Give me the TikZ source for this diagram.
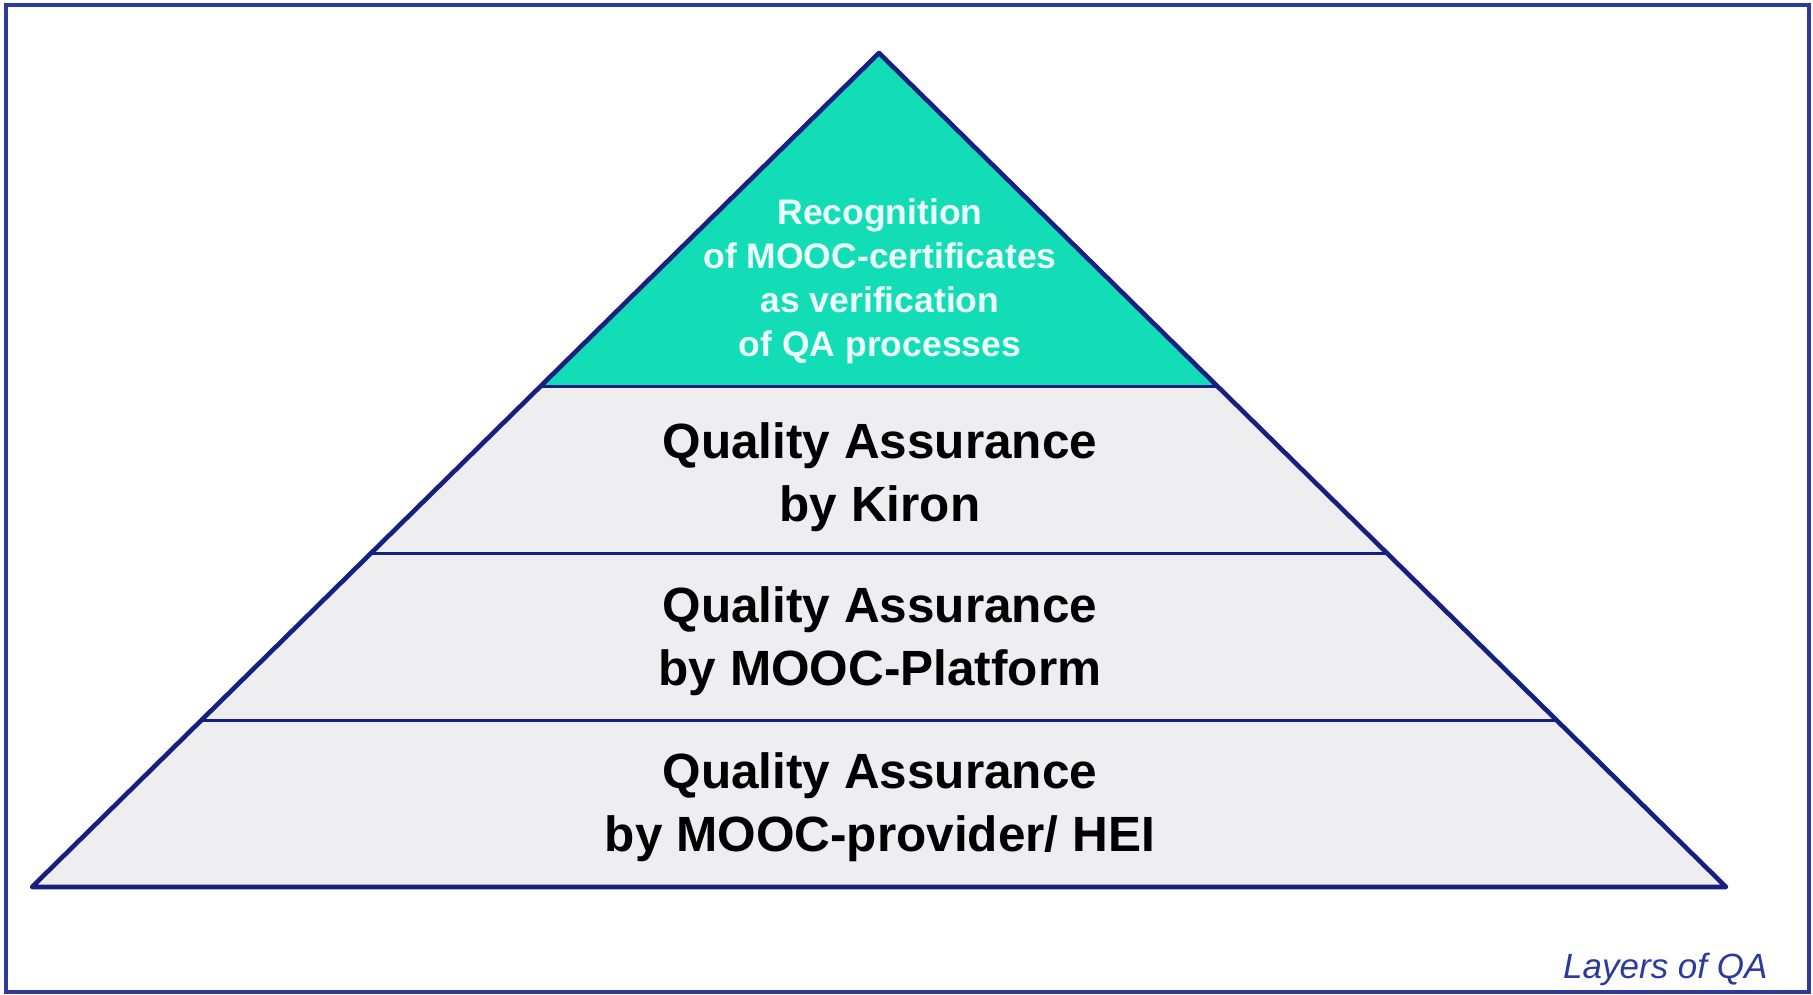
\documentclass[tikz,border=0pt]{standalone}
\usepackage{fontspec}
\setmainfont{Liberation Sans}
\usetikzlibrary{calc}
\definecolor{framecol}{RGB}{44,58,158}
\definecolor{edgecol}{RGB}{22,32,130}
\definecolor{tealfill}{RGB}{18,221,182}
\definecolor{greyfill}{RGB}{238,238,240}
\definecolor{toptext}{RGB}{236,255,248}
\tikzset{
  layertext/.style={align=center, text=black, font=\bfseries\fontsize{49.5}{62.5}\selectfont},
  toplabel/.style={align=center, text=toptext, font=\bfseries\fontsize{35.5}{44}\selectfont},
  divider/.style={draw=edgecol, line width=3pt},
  outline/.style={draw=edgecol, line width=4.6pt, line join=round}
}
\begin{document}
\begin{tikzpicture}[x=1pt,y=-1pt]
\useasboundingbox (0,0) rectangle (1813,995);
% outer frame
\draw[framecol, line width=3.6pt] (6,5) rectangle (1809,992);
% pyramid corners
\coordinate (apex) at (879,53);
\coordinate (bl) at (32,887);
\coordinate (br) at (1726,887);
% layer boundaries along the sides
\coordinate (l1) at ($(apex)!0.4!(bl)$);
\coordinate (r1) at ($(apex)!0.4!(br)$);
\coordinate (l2) at ($(apex)!0.6!(bl)$);
\coordinate (r2) at ($(apex)!0.6!(br)$);
\coordinate (l3) at ($(apex)!0.8!(bl)$);
\coordinate (r3) at ($(apex)!0.8!(br)$);
% fills
\fill[greyfill] (l1) -- (r1) -- (br) -- (bl) -- cycle;
\fill[tealfill] (apex) -- (r1) -- (l1) -- cycle;
% dividers
\draw[divider] (l1) -- (r1);
\draw[divider] (l2) -- (r2);
\draw[divider] (l3) -- (r3);
% outline
\draw[outline] (apex) -- (br) -- (bl) -- cycle;
% labels
\node[toplabel] (top) at (880,281) {Recognition\\of MOOC-certificates\\as verification\\of QA processes};
\node[layertext] (kiron) at (880,477) {Quality Assurance\\by Kiron};
\node[layertext] (platform) at (880,641) {Quality Assurance\\by MOOC-Platform};
\node[layertext] (provider) at (880,807) {Quality Assurance\\by MOOC-provider/ HEI};
\node[anchor=east, text=framecol, font=\itshape\fontsize{35}{42}\selectfont] (caption) at (1771,969) {Layers of QA};
\end{tikzpicture}
\end{document}
